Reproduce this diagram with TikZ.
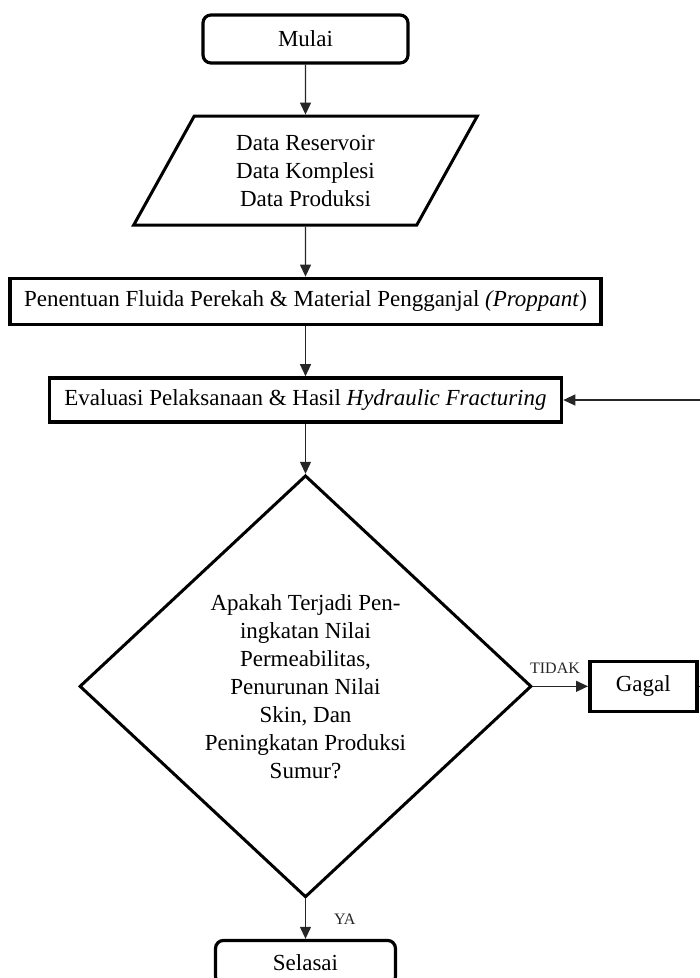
\documentclass[tikz,border=0pt]{standalone}
\usepackage{fontspec}
\setmainfont{Liberation Serif}
\usetikzlibrary{shapes.geometric, arrows.meta, positioning}
\newcommand{\flowfont}{\fontsize{11.5}{14}\selectfont}
\tikzset{
  sbox/.style={
    rectangle, rounded corners=4pt,
    draw=black, line width=1.6pt,
    align=center, font=\flowfont, minimum height=24pt
  },
  iobox/.style={
    trapezium, trapezium left angle=64, trapezium right angle=116,
    trapezium stretches=true,
    draw=black, line width=1.5pt,
    align=center, font=\flowfont,
    minimum width=172pt, minimum height=54.5pt
  },
  pbox/.style={
    rectangle, draw=black, line width=1.8pt,
    align=center, font=\flowfont, inner sep=3pt
  },
  dbox/.style={
    diamond, draw=black, line width=1.5pt,
    align=center, font=\flowfont, inner sep=0pt,
    minimum width=226pt, minimum height=211pt
  },
  arr/.style={-{Triangle[length=6pt,width=5.5pt]}, line width=0.6pt, color=black!85},
  lbl/.style={font=\fontsize{8}{9}\selectfont, inner sep=2pt},
}
\begin{document}
\begin{tikzpicture}[node distance=25pt]
        \useasboundingbox (-152.75pt,19.5pt) rectangle (197.25pt,-469.5pt);
        \node[sbox, minimum width=102.5pt] (mulai) {Mulai};
        \node[iobox, below=of mulai] (data) {Data Reservoir\\Data Komplesi\\Data Produksi};
        \node[pbox, below=of data, minimum width=295.5pt, minimum height=23pt] (tentu)
          {Penentuan Fluida Perekah \& Material Pengganjal \textit{(Proppant})};
        \node[pbox, below=of tentu, minimum width=256pt, minimum height=22pt] (eval)
          {Evaluasi Pelaksanaan \& Hasil \textit{Hydraulic Fracturing}};
        \node[dbox, below=of eval] (cek) {Apakah Terjadi Pen-\\ingkatan Nilai\\Permeabilitas,\\Penurunan Nilai\\Skin, Dan\\Peningkatan Produksi\\Sumur?};
        \node[pbox, right=27.5pt of cek, minimum width=53.5pt, minimum height=25pt] (gagal) {Gagal};
        \node[sbox, below=20pt of cek, minimum width=90pt, minimum height=22pt] (selesai) {Selasai};
        \draw[arr] (mulai)--(data); \draw[arr] (data)--(tentu);
        \draw[arr] (tentu)--(eval); \draw[arr] (eval)--(cek);
        \draw[arr] (cek) -- node[lbl, above=4pt, pos=0.4] {TIDAK} (gagal);
        \draw[arr] (cek) -- node[lbl, right=12pt] {YA} (selesai);
        \draw[arr] (gagal.east) -- ++(8pt,0) |- (eval.east);
      \end{tikzpicture}
\end{document}
